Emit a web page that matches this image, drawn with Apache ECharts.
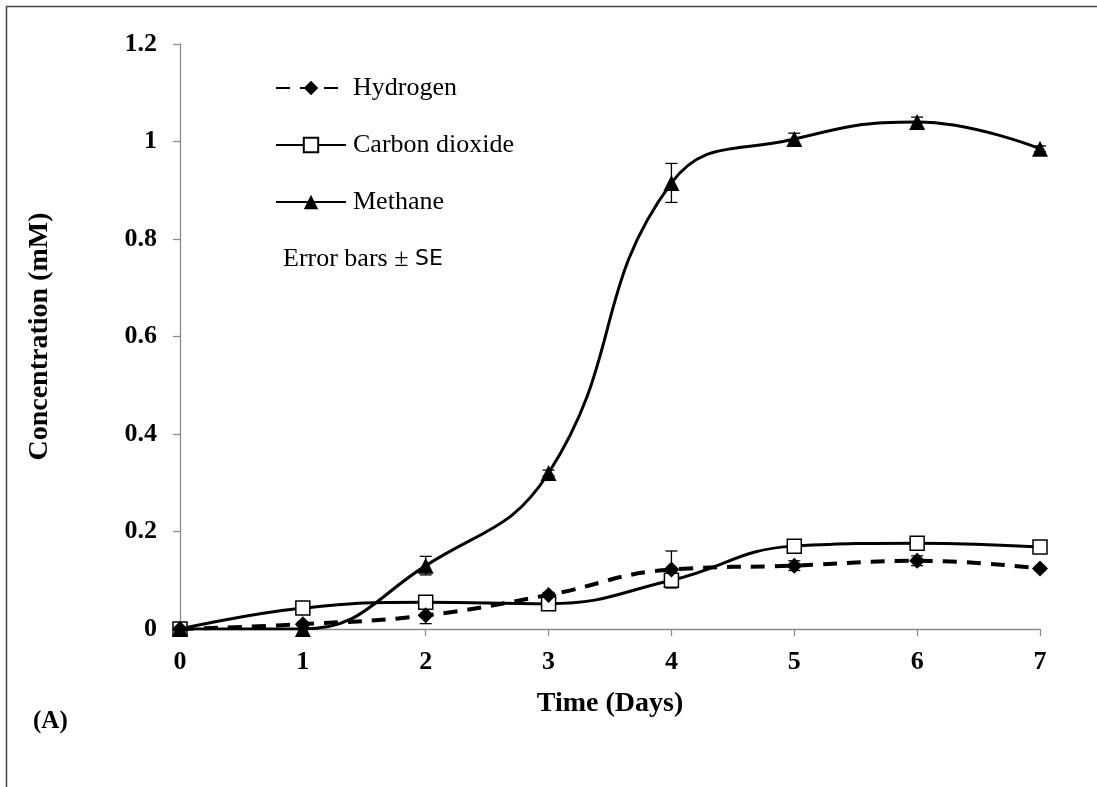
<!DOCTYPE html>
<html>
<head>
<meta charset="utf-8">
<script src="https://cdn.jsdelivr.net/npm/echarts@6/dist/echarts.min.js"></script>
<style>
  html, body { margin: 0; padding: 0; background: #fff; }
  #chart { width: 1097px; height: 787px; }
</style>
</head>
<body>
<div id="chart"></div>
<script>
// Gas concentrations over a 7-day incubation (mM), with standard errors
const days = [0, 1, 2, 3, 4, 5, 6, 7];
const hydrogen   = [0, 0.010, 0.028, 0.070, 0.122, 0.130, 0.140, 0.124];
const hydrogenSE = [0, 0.004, 0.017, 0.005, 0.038, 0.010, 0.010, 0.004];
const carbonDioxide   = [0, 0.043, 0.055, 0.052, 0.100, 0.170, 0.176, 0.168];
const carbonDioxideSE = [0, 0.003, 0.004, 0.004, 0.014, 0.005, 0.004, 0.003];
const methane   = [0, 0, 0.130, 0.320, 0.915, 1.005, 1.040, 0.985];
const methaneSE = [0, 0, 0.019, 0.006, 0.040, 0.012, 0.010, 0.006];
const yTicks = [0, 0.2, 0.4, 0.6, 0.8, 1, 1.2];

const SERIF = '"Liberation Serif", "Times New Roman", serif';

function pairs(vals) { return days.map((d, i) => [d, vals[i]]); }
function errData(vals, se) { return days.map((d, i) => [d, vals[i] - se[i], vals[i] + se[i]]); }

// Vertical ±SE whiskers with short caps
function errorBarSeries(vals, se) {
  return {
    type: 'custom',
    data: errData(vals, se),
    z: 1,
    silent: true,
    renderItem: function (params, api) {
      const x = api.value(0);
      const lo = api.coord([x, api.value(1)]);
      const hi = api.coord([x, api.value(2)]);
      const cap = 6;
      const style = { stroke: '#000', lineWidth: 1.3, fill: null };
      return {
        type: 'group',
        children: [
          { type: 'line', shape: { x1: lo[0], y1: lo[1], x2: hi[0], y2: hi[1] }, style: style },
          { type: 'line', shape: { x1: lo[0] - cap, y1: lo[1], x2: lo[0] + cap, y2: lo[1] }, style: style },
          { type: 'line', shape: { x1: hi[0] - cap, y1: hi[1], x2: hi[0] + cap, y2: hi[1] }, style: style }
        ]
      };
    }
  };
}

const chart = echarts.init(document.getElementById('chart'), null, { renderer: 'canvas' });

chart.setOption({
  animation: false,
  backgroundColor: '#fff',
  grid: { left: 180, right: 57, top: 44, bottom: 158, containLabel: false },
  legend: {
    orient: 'vertical',
    left: 275,
    top: 74,
    padding: 0,
    itemWidth: 70,
    itemHeight: 18,
    itemGap: 29,
    data: ['Hydrogen', 'Carbon dioxide', 'Methane'],
    textStyle: { fontFamily: SERIF, fontSize: 26, color: '#000', padding: [0, 0, 0, 2], lineHeight: 28 }
  },
  xAxis: {
    type: 'value',
    min: 0, max: 7, interval: 1,
    name: 'Time (Days)',
    nameLocation: 'middle',
    nameGap: 61,
    nameTextStyle: { fontFamily: SERIF, fontSize: 28, fontWeight: 'bold', color: '#000' },
    axisLine: { lineStyle: { color: '#8c8c8c', width: 1.3 } },
    axisTick: { show: true, length: 7, lineStyle: { color: '#8c8c8c', width: 1.3 } },
    axisLabel: { fontFamily: SERIF, fontSize: 26, fontWeight: 'bold', color: '#000', margin: 20 },
    splitLine: { show: false }
  },
  yAxis: {
    type: 'value',
    min: 0, max: 1.2, interval: 0.2,
    name: 'Concentration (mM)',
    nameLocation: 'middle',
    nameGap: 126,
    nameRotate: 90,
    nameTextStyle: { fontFamily: SERIF, fontSize: 28, fontWeight: 'bold', color: '#000' },
    axisLine: { show: true, lineStyle: { color: '#8c8c8c', width: 1.3 } },
    axisTick: { show: true, length: 7, lineStyle: { color: '#8c8c8c', width: 1.3 } },
    axisLabel: {
      fontFamily: SERIF, fontSize: 26, fontWeight: 'bold', color: '#000', margin: 23,
      formatter: function (v) {
        const t = yTicks.find(k => Math.abs(k - v) < 1e-9);
        return t === undefined ? '' : String(t);
      }
    },
    splitLine: { show: false }
  },
  series: [
    errorBarSeries(hydrogen, hydrogenSE),
    errorBarSeries(carbonDioxide, carbonDioxideSE),
    errorBarSeries(methane, methaneSE),
    {
      name: 'Carbon dioxide',
      type: 'line',
      data: pairs(carbonDioxide),
      smooth: 0.45,
      z: 2,
      symbol: 'rect',
      symbolSize: 14,
      showAllSymbol: true,
      lineStyle: { color: '#000', width: 3 },
      itemStyle: { color: '#fff', borderColor: '#000', borderWidth: 1.5 }
    },
    {
      name: 'Hydrogen',
      type: 'line',
      data: pairs(hydrogen),
      smooth: 0.45,
      z: 3,
      symbol: 'diamond',
      symbolSize: 16,
      showAllSymbol: true,
      lineStyle: { color: '#000', width: 4, type: [14, 10] },
      itemStyle: { color: '#000', borderColor: '#000', borderWidth: 0 }
    },
    {
      name: 'Methane',
      type: 'line',
      data: pairs(methane),
      smooth: 0.45,
      z: 4,
      symbol: 'triangle',
      symbolSize: 16,
      showAllSymbol: true,
      lineStyle: { color: '#000', width: 3 },
      itemStyle: { color: '#000', borderColor: '#000', borderWidth: 0 }
    }
  ],
  graphic: [
    {
      type: 'rect',
      left: 4, top: 4,
      shape: { width: 1200, height: 900 },
      style: { fill: null, stroke: '#444', lineWidth: 1.5 },
      silent: true
    },
    {
      type: 'text',
      left: 283, top: 246,
      style: {
        text: '{a|Error bars ± }{b|SE}',
        rich: {
          a: { fontFamily: SERIF, fontSize: 26, fill: '#000' },
          b: { fontFamily: '"DejaVu Sans", sans-serif', fontSize: 22, fill: '#000' }
        }
      }
    },
    {
      type: 'text',
      left: 33, top: 709,
      style: { text: '(A)', fontFamily: SERIF, fontSize: 25, fontWeight: 'bold', fill: '#000' }
    }
  ]
});
</script>
</body>
</html>
